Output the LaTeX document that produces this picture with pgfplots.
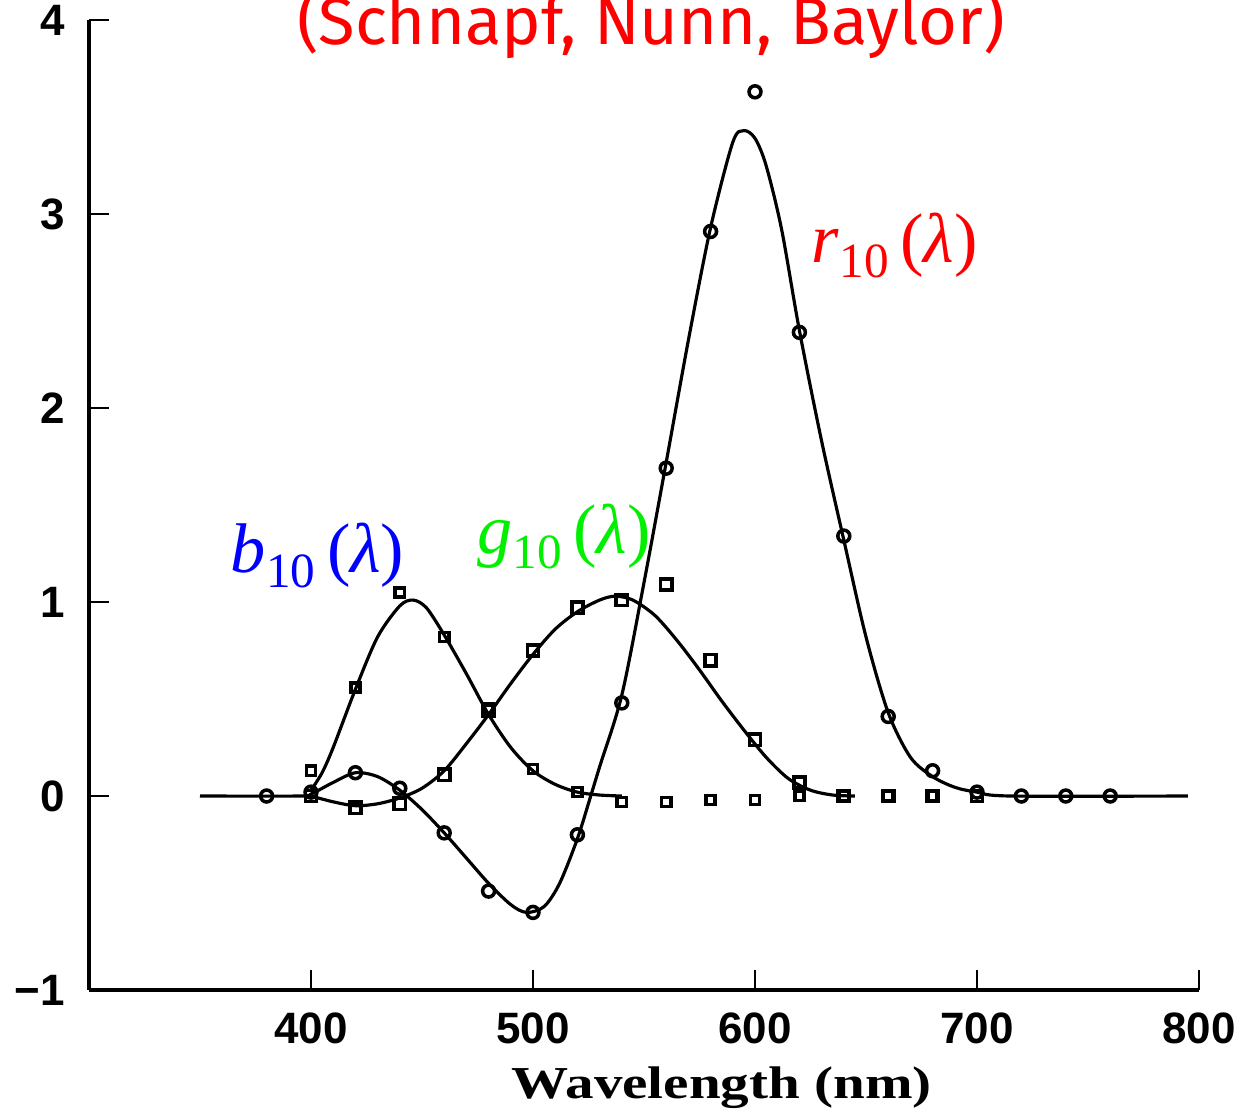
\documentclass[border=0pt]{standalone}
\usepackage{pgfplots}
\pgfplotsset{compat=1.18}
\usepackage{fontspec}
\setmainfont{Liberation Serif}
\newfontfamily\tickfont{Liberation Sans}
\newfontfamily\titlefont{Fira Sans}
\definecolor{pureblue}{RGB}{0,0,255}
\definecolor{puregreen}{RGB}{0,240,0}
\definecolor{purered}{RGB}{255,0,0}
\newcommand{\cmf}[1]{\textit{#1}\raisebox{-0.45ex}{\fontsize{14}{16}\selectfont 10}\,(\textit{λ})}
\begin{document}
\begin{tikzpicture}
\begin{axis}[
  at={(8.9mm,12.1mm)}, anchor=south west,
  width=111mm, height=97mm, scale only axis,
  xmin=300, xmax=800, ymin=-1, ymax=4,
  axis x line=bottom, axis y line=left,
  axis line style={line width=1.2pt, -},
  xtick={400,500,600,700,800},
  xticklabels={400,500,600,700,800},
  ytick={-1,0,1,2,3,4},
  yticklabels={−1,0,1,2,3,4},
  tick align=inside,
  major tick length=2mm,
  tick style={line width=0.8pt, black},
  xticklabel style={font=\tickfont\bfseries\fontsize{12.5}{14}\selectfont, yshift=-1.0mm},
  yticklabel style={font=\tickfont\bfseries\fontsize{12.5}{14}\selectfont, xshift=-1.2mm},
  xlabel={\scalebox{1.25}[1]{\fontsize{13}{15}\selectfont\bfseries Wavelength (nm)}},
  xlabel style={at={(rel axis cs:0.5700,0)}, anchor=center, yshift=-9.8mm},
  clip=false,
]
% fitted curves
\addplot[black, line width=0.9pt, smooth, tension=0.5] coordinates {
(350,0) (395,0) (400,0.01) (410,0.07) (420,0.12) (430,0.10) (440,0.03) (450,-0.07)
(460,-0.19) (470,-0.32) (480,-0.45) (490,-0.56) (497,-0.60) (505,-0.57) (512,-0.45)
(520,-0.22) (526,0) (530,0.15) (540,0.52) (550,1.10) (560,1.72) (570,2.35) (580,2.93)
(590,3.37) (595,3.43) (600,3.39) (605,3.25) (612,2.92) (620,2.40) (630,1.83) (640,1.32)
(650,0.82) (660,0.43) (670,0.20) (680,0.10) (690,0.045) (700,0.02) (715,0) (795,0)};
\addplot[black, line width=0.9pt, smooth, tension=0.5] coordinates {
(400,0) (410,-0.03) (420,-0.05) (430,-0.04) (440,-0.01) (450,0.04) (460,0.13) (470,0.27)
(480,0.42) (490,0.58) (500,0.73) (510,0.86) (520,0.95) (530,1.01) (537,1.03) (545,1.01)
(555,0.93) (565,0.80) (575,0.65) (585,0.49) (595,0.34) (605,0.20) (615,0.09) (625,0.03)
(635,0.005) (645,0)};
\addplot[black, line width=0.9pt, smooth, tension=0.5] coordinates {
(400,0.03) (405,0.12) (410,0.25) (420,0.55) (430,0.82) (440,0.98) (446,1.01) (452,0.97)
(460,0.83) (470,0.63) (480,0.42) (490,0.25) (500,0.13) (510,0.06) (520,0.02) (530,0.005) (540,0)};
% data points
\addplot[only marks, mark=o, mark size=1.7pt, mark options={line width=1pt, black, fill=white}] coordinates {
(380,0) (400,0.02) (420,0.12) (440,0.04) (460,-0.19) (480,-0.49) (500,-0.60) (520,-0.20)
(540,0.48) (560,1.69) (580,2.91) (600,3.63) (620,2.39) (640,1.34) (660,0.41) (680,0.13)
(700,0.02) (720,0) (740,0) (760,0)};
\addplot[only marks, mark=square, mark size=1.6pt, mark options={line width=1pt, black, fill=white}] coordinates {
(400,0) (420,-0.06) (440,-0.04) (460,0.11) (480,0.44) (500,0.75) (520,0.97) (540,1.01)
(560,1.09) (580,0.70) (600,0.29) (620,0.07) (640,0) (660,0) (680,0) (700,0)};
\addplot[only marks, mark=square, mark size=1.3pt, mark options={line width=1pt, black, fill=white}] coordinates {
(400,0.13) (420,0.56) (440,1.05) (460,0.82) (480,0.45) (500,0.14) (520,0.02) (540,-0.03)
(560,-0.03) (580,-0.02) (600,-0.02) (620,0) (640,0) (660,0) (680,0)};
% labels
\node[anchor=base, text=pureblue, font=\fontsize{20}{22}\selectfont] at (axis cs:403,1.15) {\cmf{b}};
\node[anchor=base, text=puregreen, font=\fontsize{20}{22}\selectfont] at (axis cs:514,1.25) {\cmf{g}};
\node[anchor=base, text=purered, font=\fontsize{20}{22}\selectfont] at (axis cs:663,2.75) {\cmf{r}};
\end{axis}
\node[anchor=base, text=purered] at (65.1mm,106.6mm) {\resizebox{70.8mm}{!}{\titlefont (Schnapf, Nunn, Baylor)}};
\pgfresetboundingbox
\path[use as bounding box] (0,0) rectangle (124.5mm,111.1mm);
\end{tikzpicture}
\end{document}
